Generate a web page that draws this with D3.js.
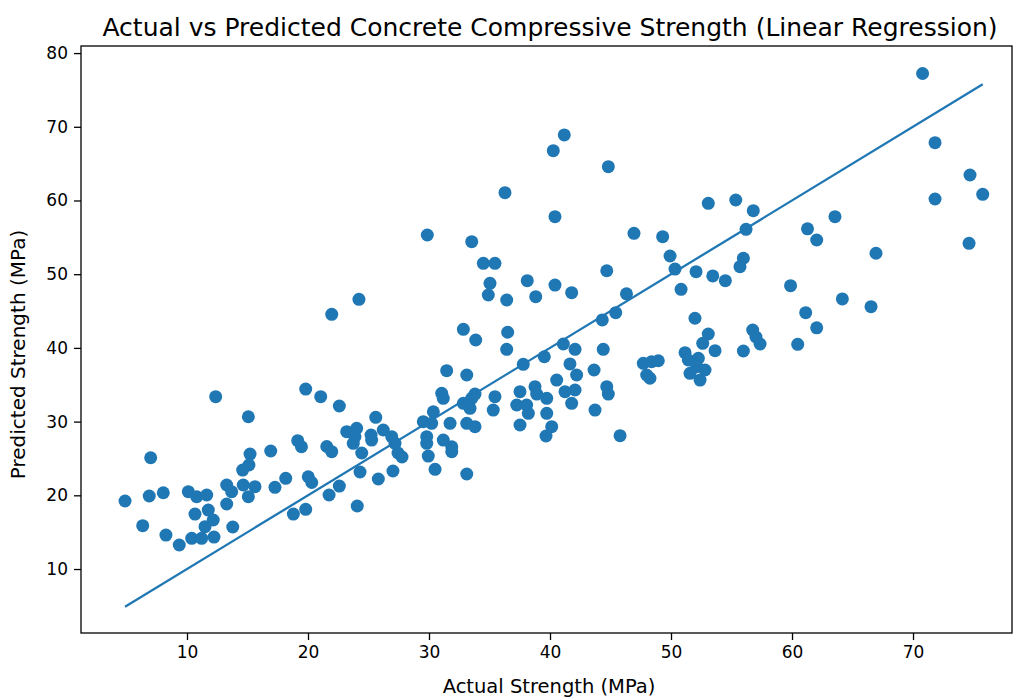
<!DOCTYPE html>
<html>
<head>
<meta charset="utf-8">
<script src="https://cdn.jsdelivr.net/npm/d3@7"></script>
<style>
  html, body { margin: 0; padding: 0; background: #fff; }
  svg { display: block; }
  text { font-family: "DejaVu Sans", sans-serif; fill: #000; }
</style>
</head>
<body>
<svg id="chart" width="1014" height="699"></svg>
<script>
// Actual strength (MPa) of each test sample
const actual = [
  4.88, 6.88, 8.04, 7.00, 6.34, 8.26, 9.36, 10.11, 10.80, 11.63,
  10.66, 11.76, 12.17, 11.49, 10.39, 11.21, 12.23, 12.37, 13.28, 13.69,
  14.65, 15.62, 15.07, 13.28, 13.78, 15.21, 15.12, 14.60, 15.07, 16.92,
  17.27, 18.16, 19.15, 19.46, 19.81, 21.05, 20.02, 20.31, 18.79, 19.81,
  21.55, 21.96, 21.74, 22.59, 24.07, 22.59, 21.96, 24.21, 23.20, 24.02,
  23.88, 23.74, 24.44, 25.21, 25.26, 25.60, 26.22, 26.92, 27.19, 27.44,
  27.77, 24.30, 25.81, 27.02, 29.86, 29.81, 29.81, 29.94, 30.50, 29.53,
  30.22, 30.36, 31.05, 31.18, 31.46, 32.84, 33.86, 33.12, 32.84, 33.53,
  33.80, 33.39, 31.74, 33.12, 33.80, 31.18, 31.88, 31.88, 33.12, 33.53,
  34.49, 35.45, 35.04, 34.90, 36.42, 36.28, 36.50, 36.42, 35.31, 35.45,
  37.52, 37.25, 38.07, 38.21, 37.52, 37.79, 38.12, 38.82, 38.76, 38.90,
  39.73, 39.73, 40.14, 39.67, 39.53, 40.55, 40.41, 40.41, 40.27, 41.18,
  41.10, 41.65, 42.07, 41.24, 42.07, 41.79, 42.20, 41.79, 43.64, 43.72,
  44.40, 44.32, 44.69, 44.69, 44.82, 44.82, 45.43, 45.79, 46.32, 46.94,
  47.71, 48.40, 48.95, 47.99, 48.26, 49.31, 49.92, 50.33, 50.83, 51.16,
  51.43, 52.26, 52.12, 51.57, 52.40, 52.81, 51.98, 53.08, 52.62, 53.64,
  52.07, 53.08, 53.45, 54.49, 55.35, 56.80, 56.20, 55.98, 55.70, 55.98,
  56.75, 57.36, 57.02, 59.88, 60.47, 61.13, 61.28, 62.04, 62.04, 63.55,
  64.16, 66.53, 66.94, 70.79, 71.82, 71.82, 74.71, 74.63, 75.76
];
// Predicted strength (MPa) from the linear regression model
const predicted = [
  19.23, 19.91, 20.35, 25.10, 15.88, 14.61, 13.26, 20.49, 19.81, 20.04,
  17.46, 18.00, 16.65, 15.74, 14.17, 14.17, 14.34, 33.38, 21.40, 20.49,
  21.40, 21.17, 19.81, 18.82, 15.70, 25.60, 24.11, 23.43, 30.66, 26.01,
  21.09, 22.31, 27.41, 26.59, 34.42, 33.38, 22.52, 21.74, 17.46, 18.10,
  26.62, 25.92, 20.04, 21.26, 18.55, 32.12, 44.56, 46.59, 28.63, 29.09,
  27.95, 27.06, 25.74, 28.18, 27.50, 30.58, 28.86, 27.95, 27.06, 25.74,
  25.20, 23.16, 22.21, 23.30, 55.32, 27.95, 27.06, 25.33, 23.53, 29.99,
  29.77, 31.34, 33.84, 33.16, 36.91, 42.52, 41.07, 36.32, 32.48, 33.16,
  33.74, 31.80, 29.77, 29.77, 29.31, 27.50, 26.59, 25.92, 22.89, 54.41,
  51.48, 51.48, 48.76, 47.18, 46.50, 61.06, 42.12, 39.81, 31.57, 33.38,
  34.06, 32.25, 32.25, 31.13, 29.54, 37.77, 49.12, 46.95, 34.74, 33.74,
  33.16, 31.13, 29.31, 28.05, 38.80, 35.64, 48.53, 57.80, 66.76, 68.89,
  40.53, 37.82, 39.81, 34.06, 34.29, 32.48, 36.32, 47.49, 37.00, 31.57,
  39.81, 43.79, 50.47, 34.74, 33.74, 64.59, 44.78, 28.09, 47.34, 55.55,
  37.91, 38.13, 38.26, 36.32, 35.88, 55.09, 52.47, 50.70, 47.95, 39.35,
  38.36, 38.59, 37.45, 36.55, 35.64, 37.00, 44.02, 41.89, 40.62, 39.62,
  50.34, 59.62, 49.76, 49.12, 60.07, 58.62, 56.09, 52.16, 51.02, 39.58,
  42.43, 40.53, 41.48, 48.44, 40.49, 44.78, 56.16, 54.64, 42.73, 57.80,
  46.64, 45.59, 52.84, 77.23, 67.84, 60.20, 63.46, 54.19, 60.84
];
const xTicks = [10, 20, 30, 40, 50, 60, 70];
const yTicks = [10, 20, 30, 40, 50, 60, 70, 80];
const titleText = "Actual vs Predicted Concrete Compressive Strength (Linear Regression)";
const xLabelText = "Actual Strength (MPa)";
const yLabelText = "Predicted Strength (MPa)";

(function () {
  const svg = d3.select("#chart");
  const mL = 81, mR = 1012, mT = 46, mB = 633;
  const blue = "#1f77b4";

  const x = d3.scaleLinear().domain([1.24, 78.18]).range([mL, mR]);
  const y = d3.scaleLinear().domain([1.32, 80.96]).range([mB, mT]);

  const pts = actual.map((a, i) => ({a, p: predicted[i]}));

  // identity line y = x over the range of actual values
  const ext = d3.extent(actual);
  const lineData = [{a: ext[0], p: ext[0]}, {a: ext[1], p: ext[1]}];

  svg.append("g").selectAll("circle").data(pts).join("circle")
    .attr("cx", d => x(d.a)).attr("cy", d => y(d.p))
    .attr("r", 6.5).attr("fill", blue);

  svg.append("path").datum(lineData)
    .attr("d", d3.line().x(d => x(d.a)).y(d => y(d.p)))
    .attr("fill", "none").attr("stroke", blue).attr("stroke-width", 2.3);

  svg.append("rect").attr("x", mL).attr("y", mT)
    .attr("width", mR - mL).attr("height", mB - mT)
    .attr("fill", "none").attr("stroke", "#000").attr("stroke-width", 1.3);

  const xAxis = svg.append("g").attr("transform", `translate(0,${mB})`)
    .call(d3.axisBottom(x).tickValues(xTicks).tickFormat(d3.format("d")).tickSize(7).tickPadding(6));
  const yAxis = svg.append("g").attr("transform", `translate(${mL},0)`)
    .call(d3.axisLeft(y).tickValues(yTicks).tickFormat(d3.format("d")).tickSize(7).tickPadding(6));
  [xAxis, yAxis].forEach(g => {
    g.select(".domain").remove();
    g.selectAll(".tick line").attr("stroke", "#000").attr("stroke-width", 1.3);
    g.selectAll(".tick text").attr("font-family", "DejaVu Sans").attr("font-size", 17).attr("fill", "#000");
  });

  svg.append("text").attr("x", 550).attr("y", 36)
    .attr("text-anchor", "middle").attr("font-size", 25).text(titleText);
  svg.append("text").attr("x", 549).attr("y", 693)
    .attr("text-anchor", "middle").attr("font-size", 19.5).text(xLabelText);
  svg.append("text").attr("transform", `translate(25,${(mT + mB) / 2 + 15}) rotate(-90)`)
    .attr("text-anchor", "middle").attr("font-size", 20).text(yLabelText);
})();
</script>
</body>
</html>
